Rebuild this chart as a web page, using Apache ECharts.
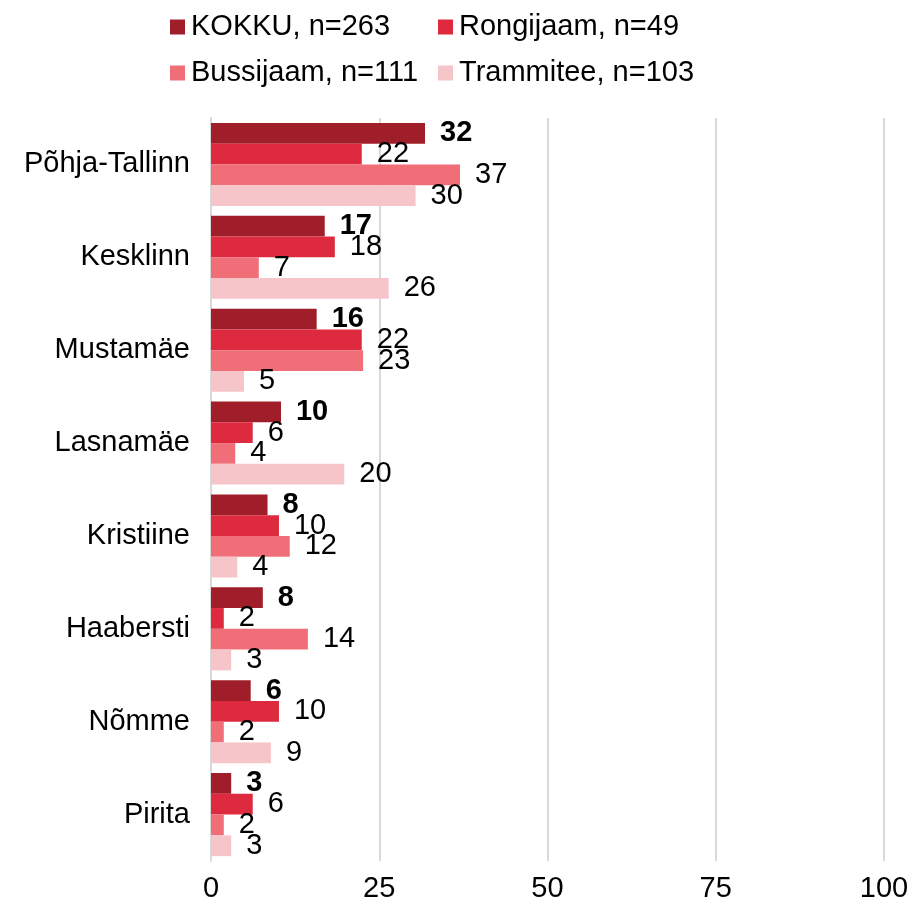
<!DOCTYPE html>
<html>
<head>
<meta charset="utf-8">
<script src="https://cdn.jsdelivr.net/npm/echarts@6/dist/echarts.min.js"></script>
<style>
html,body{margin:0;padding:0;background:#fff;}
#chart{width:913px;height:911px;}
</style>
</head>
<body>
<div id="chart"></div>
<script>
var categories = ['Põhja-Tallinn','Kesklinn','Mustamäe','Lasnamäe','Kristiine','Haabersti','Nõmme','Pirita'];
var seriesNames = ['KOKKU, n=263','Rongijaam, n=49','Bussijaam, n=111','Trammitee, n=103'];
var kokku      = [31.8, 16.9, 15.7, 10.4, 8.4, 7.7, 5.9, 3.0];
var rongijaam  = [22.4, 18.4, 22.4, 6.2, 10.1, 1.9, 10.1, 6.2];
var bussijaam  = [37.0, 7.1, 22.6, 3.6, 11.7, 14.4, 1.9, 1.9];
var trammitee  = [30.4, 26.4, 4.9, 19.8, 3.9, 3.0, 8.9, 3.0];
var xTicks = [0, 25, 50, 75, 100];
var colors = ['#A01E29','#DD2A3E','#F06E78','#F6C5CA'];

var chart = echarts.init(document.getElementById('chart'), null, {renderer:'canvas'});
var font = 'Liberation Sans, Arial, sans-serif';
var fs = 29;
function mk(name, data, idx, bold){
  return {
    name: name, type: 'bar', data: data,
    barGap: '0%', barCategoryGap: '10.5%',
    itemStyle: {color: colors[idx]},
    label: {
      show: true, position: 'right', distance: 15,
      fontFamily: font, fontSize: fs, color: '#000',
      fontWeight: bold ? 'bold' : 'normal',
      formatter: function(p){ return Math.round(p.value); }
    },
    emphasis: {disabled: true}
  };
}
function leg(left, names){
  return {
    left: left, top: 4, orient: 'vertical',
    itemWidth: 15, itemHeight: 15, itemGap: 10,
    icon: 'rect',
    textStyle: {fontFamily: font, fontSize: fs, color: '#000', lineHeight: 36, padding: [0,0,0,1]},
    data: names
  };
}
chart.setOption({
  animation: false,
  textStyle: {fontFamily: font},
  legend: [
    leg(165, [seriesNames[0], seriesNames[2]]),
    leg(433, [seriesNames[1], seriesNames[3]])
  ],
  grid: {left: 211, right: 29, top: 118, bottom: 50, containLabel: false},
  xAxis: {
    type: 'value', min: xTicks[0], max: xTicks[xTicks.length-1], interval: 25,
    axisLine: {show: false}, axisTick: {show: false},
    splitLine: {show: true, lineStyle: {color: '#D9D9D9', width: 2}},
    axisLabel: {fontFamily: font, fontSize: fs, color: '#000', margin: 13}
  },
  yAxis: {
    type: 'category', data: categories, inverse: true,
    axisLine: {show: true, lineStyle: {color: '#D9D9D9', width: 2}},
    axisTick: {show: false},
    axisLabel: {fontFamily: font, fontSize: fs, color: '#000', margin: 21}
  },
  series: [
    mk(seriesNames[0], kokku, 0, true),
    mk(seriesNames[1], rongijaam, 1, false),
    mk(seriesNames[2], bussijaam, 2, false),
    mk(seriesNames[3], trammitee, 3, false)
  ]
});
</script>
</body>
</html>
